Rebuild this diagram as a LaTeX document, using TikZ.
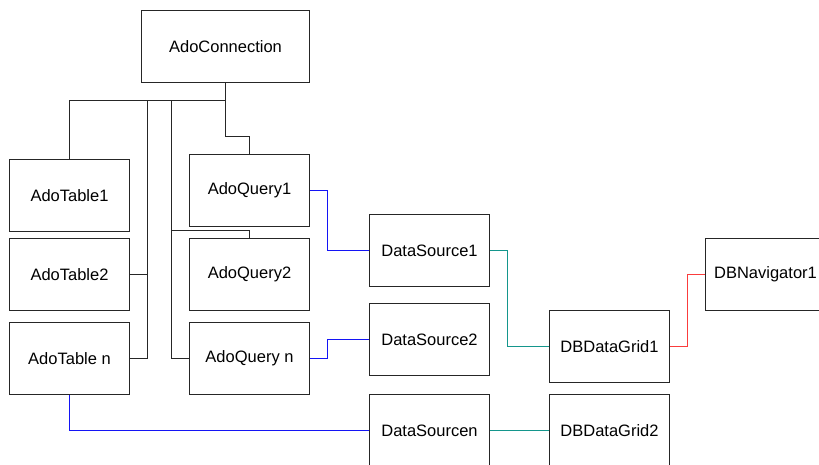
\documentclass[tikz,border=0pt]{standalone}
\usepackage{fontspec}
\setmainfont{Liberation Sans}
\definecolor{linkblue}{RGB}{20,20,245}
\definecolor{linkteal}{RGB}{20,150,140}
\definecolor{linkred}{RGB}{250,60,60}
\begin{document}
\begin{tikzpicture}[x=1pt,y=-1pt,
  comp/.style={draw=black!85, line width=1pt, rectangle, minimum width=120pt,
    minimum height=72pt, inner sep=0pt, font=\fontsize{16.5}{20}\selectfont},
  wire/.style={line width=1pt, black!85},
  dbwire/.style={line width=1pt, linkblue},
  gridwire/.style={line width=1pt, linkteal},
  navwire/.style={line width=1pt, linkred}]
\useasboundingbox (0,0) rectangle (819,465);
\clip (0,0) rectangle (819,465);

% components
\node[comp, minimum width=168pt] (conn) at (225.5,46.5) {AdoConnection};
\node[comp] (t1) at (69.5,195.5) {AdoTable1};
\node[comp] (t2) at (69.5,274.5) {AdoTable2};
\node[comp] (tn) at (69.5,358.5) {AdoTable n};
\node[comp] (q1) at (249.5,190.5) {AdoQuery1};
\node[comp] (q2) at (249.5,274.5) {AdoQuery2};
\node[comp] (qn) at (249.5,358.5) {AdoQuery n};
\node[comp] (ds1) at (429.5,250.5) {DataSource1};
\node[comp] (ds2) at (429.5,339.5) {DataSource2};
\node[comp] (dsn) at (429.5,430.5) {DataSourcen};
\node[comp] (g1) at (609.5,346.5) {DBDataGrid1};
\node[comp] (g2) at (609.5,430.5) {DBDataGrid2};
\node[comp] (nav) at (765.5,274.5) {DBNavigator1};

% connection bus
\coordinate (busR) at (225.5,100.5);
\coordinate (busL) at (69.5,100.5);
\coordinate (tbus) at (147.5,100.5);
\coordinate (qbus) at (171.5,100.5);
\coordinate (qtap) at (171.5,230.5);
\draw[wire] (conn.south) -- (busR) -- (busL) -- (t1.north);
\draw[wire] (tn.east) -| (tbus);
\draw[wire] (t2.east) -- (t2.east -| tbus);
\draw[wire] (qn.west) -| (qbus);
\draw[wire] (q2.north) |- (qtap);
\draw[wire] (busR) -- ++(0,36) -| (q1.north);

% datasets to data sources
\coordinate (qcol) at (327.5,0);
\draw[dbwire] (q1.east) -| (qcol |- ds1.west) -- (ds1.west);
\draw[dbwire] (qn.east) -| (qcol |- ds2.west) -- (ds2.west);
\draw[dbwire] (tn.south) |- (dsn.west);

% data sources to grids
\coordinate (gcol) at (507.5,0);
\draw[gridwire] (ds1.east) -| (gcol |- g1.west) -- (g1.west);
\draw[gridwire] (dsn.east) -- (g2.west);

% grid to navigator
\coordinate (ncol) at (687.5,0);
\draw[navwire] (g1.east) -| (ncol |- nav.west) -- (nav.west);
\end{tikzpicture}
\end{document}
